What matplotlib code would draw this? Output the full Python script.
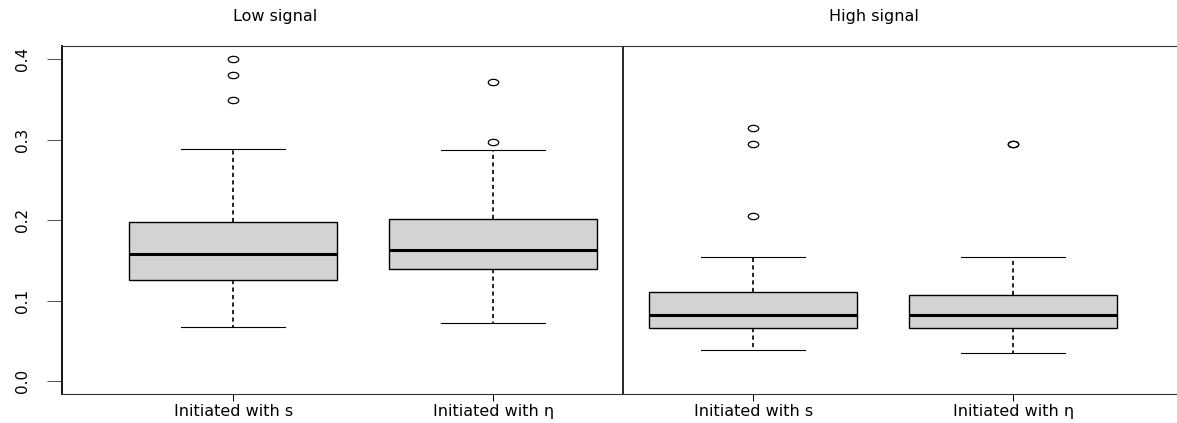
import matplotlib
matplotlib.use("Agg")
import matplotlib.pyplot as plt
import matplotlib.transforms as mtransforms
from matplotlib.path import Path
import numpy as np

# Groups, in drawing order (two per signal level)
categories = ["Initiated with s", "Initiated with η", "Initiated with s", "Initiated with η"]
panel_titles = ["Low signal", "High signal"]

# Box summary statistics per group
q1 = [0.1256, 0.140, 0.0655, 0.0655]
medians = [0.158, 0.163, 0.0825, 0.0817]
q3 = [0.198, 0.2011, 0.1103, 0.1066]
whisker_low = [0.0668, 0.0725, 0.0382, 0.0348]
whisker_high = [0.288, 0.2877, 0.1542, 0.1542]
outliers = [
    [0.349, 0.380, 0.4005],
    [0.2977, 0.3715],
    [0.2052, 0.2952, 0.3143],
    [0.2944, 0.2952],
]
y_ticks = [0.0, 0.1, 0.2, 0.3, 0.4]
y_tick_labels = ["0.0", "0.1", "0.2", "0.3", "0.4"]

W, H, DPI = 1177, 423, 100
fig = plt.figure(figsize=(W / DPI, H / DPI), dpi=DPI)
plt.rcParams["font.family"] = ["DejaVu Sans"]

# Plot region (extends slightly past the right edge of the canvas)
left_px, right_px, top_px, bottom_px = 62, 1185, 46.5, 394
ax = fig.add_axes([left_px / W, 1 - bottom_px / H,
                   (right_px - left_px) / W, (bottom_px - top_px) / H])

positions = np.arange(1, len(categories) + 1)
stats = []
for i in range(len(categories)):
    stats.append(dict(med=medians[i], q1=q1[i], q3=q3[i],
                      whislo=whisker_low[i], whishi=whisker_high[i],
                      fliers=np.array(outliers[i]), label=categories[i]))

# Open, slightly wide circle for outlying points
t = np.linspace(0, 2 * np.pi, 80)
ellipse = Path(np.column_stack([1.65 * np.cos(t), np.sin(t)]), closed=True)

ax.bxp(stats, positions=positions, widths=0.8, capwidths=0.4,
       patch_artist=True,
       boxprops=dict(facecolor="#D3D3D3", edgecolor="black", linewidth=1.0),
       medianprops=dict(color="black", linewidth=2.2),
       whiskerprops=dict(color="black", linewidth=1.2, linestyle=(0, (2.5, 2))),
       capprops=dict(color="black", linewidth=0.8),
       flierprops=dict(marker=ellipse, markersize=7.5, markerfacecolor="none",
                       markeredgecolor="black", markeredgewidth=0.9,
                       linestyle="none"))

# Separator between the two signal levels
ax.axvline(2.5, color="black", linewidth=1.2)

ax.set_xlim(0.341, 4.66)
ax.set_ylim(-0.016, 0.416)

ax.set_xticks(positions)
ax.set_xticklabels(categories, fontsize=11.5)
ax.tick_params(axis="x", length=5, width=0.75, pad=2, color="black")

ax.set_yticks(y_ticks)
ax.set_yticklabels(y_tick_labels, fontsize=11, rotation=90, va="center")
ax.tick_params(axis="y", length=10.8, width=0.75, pad=12, color="#555555")

for side in ("top", "bottom"):
    ax.spines[side].set_linewidth(0.8)
    ax.spines[side].set_color("#333333")
ax.spines["left"].set_linewidth(1.3)
ax.spines["left"].set_color("black")
ax.spines["right"].set_visible(False)

# Panel headings above the plot
trans = mtransforms.blended_transform_factory(ax.transData, fig.transFigure)
ax.text(1.162, 1 - 16 / H, panel_titles[0], transform=trans, ha="center",
        va="center", fontsize=11.5)
ax.text(3.464, 1 - 16 / H, panel_titles[1], transform=trans, ha="center",
        va="center", fontsize=11.5)

fig.savefig("out.png", dpi=DPI)
